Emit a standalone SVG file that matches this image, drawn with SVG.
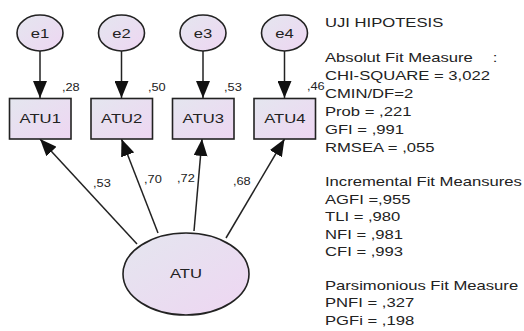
<svg xmlns="http://www.w3.org/2000/svg" width="524" height="331" viewBox="0 0 524 331">
<style>
.node{stroke:#222;stroke-width:1.6;fill:url(#g)}
.lbl{font-family:"Liberation Sans",Arial,sans-serif;font-size:13px;fill:#222}
.nm{font-family:"Liberation Sans",Arial,sans-serif;font-size:13px;fill:#222;text-anchor:middle}
.sm{font-family:"Liberation Sans",Arial,sans-serif;font-size:10px;fill:#222}
.cn{stroke:#222;stroke-width:1.5;fill:none;marker-end:url(#ah)}
</style>
<defs>
<linearGradient id="g" x1="0" y1="0" x2="1" y2="1">
<stop offset="0" stop-color="#e4e6ef"/>
<stop offset="1" stop-color="#eed6f2"/>
</linearGradient>
<marker id="ah" markerUnits="userSpaceOnUse" markerWidth="18" markerHeight="14" refX="17" refY="7" orient="auto">
<path d="M0,0 L17,7 L0,14 Z" fill="#111"/>
</marker>
</defs>
<g id="connectors">
<line class="cn" x1="40" y1="51" x2="40" y2="98"/>
<line class="cn" x1="121.5" y1="51" x2="121.5" y2="98"/>
<line class="cn" x1="203" y1="51" x2="203" y2="98"/>
<line class="cn" x1="284.5" y1="51" x2="284.5" y2="98"/>
<line class="cn" x1="137" y1="244" x2="40" y2="139"/>
<line class="cn" x1="158" y1="233" x2="121.5" y2="139"/>
<line class="cn" x1="194" y1="231" x2="202" y2="139"/>
<line class="cn" x1="226" y1="238" x2="284.5" y2="139"/>
</g>
<g id="e1"><ellipse class="node" cx="40" cy="33" rx="23" ry="18"/><g transform="scale(1.28,1)"><text class="nm" x="31.25" y="38">e1</text></g></g>
<g id="e2"><ellipse class="node" cx="121.5" cy="33" rx="23" ry="18"/><g transform="scale(1.28,1)"><text class="nm" x="94.92" y="38">e2</text></g></g>
<g id="e3"><ellipse class="node" cx="203" cy="33" rx="23" ry="18"/><g transform="scale(1.28,1)"><text class="nm" x="158.59" y="38">e3</text></g></g>
<g id="e4"><ellipse class="node" cx="284.5" cy="33" rx="23" ry="18"/><g transform="scale(1.28,1)"><text class="nm" x="222.27" y="38">e4</text></g></g>
<g id="ATU1"><rect class="node" x="9.5" y="98.5" width="61.5" height="40.5"/><g transform="scale(1.28,1)"><text class="nm" x="31.45" y="123">ATU1</text><text class="sm" x="48.4" y="91">,28</text></g></g>
<g id="ATU2"><rect class="node" x="91" y="98.5" width="61.5" height="40.5"/><g transform="scale(1.28,1)"><text class="nm" x="95.1" y="123">ATU2</text><text class="sm" x="115.6" y="91">,50</text></g></g>
<g id="ATU3"><rect class="node" x="172.5" y="98.5" width="61.5" height="40.5"/><g transform="scale(1.28,1)"><text class="nm" x="158.8" y="123">ATU3</text><text class="sm" x="175" y="91">,53</text></g></g>
<g id="ATU4"><rect class="node" x="254" y="98.5" width="61.5" height="40.5"/><g transform="scale(1.28,1)"><text class="nm" x="222.5" y="123">ATU4</text><text class="sm" x="239.8" y="90">,46</text></g></g>
<g id="ATU"><ellipse class="node" cx="186" cy="274" rx="63" ry="41"/><g transform="scale(1.28,1)"><text class="nm" x="145.3" y="278">ATU</text></g></g>
<g id="path-labels" transform="scale(1.28,1)">
<text class="sm" x="72.7" y="187">,53</text>
<text class="sm" x="112.5" y="183">,70</text>
<text class="sm" x="138.3" y="182">,72</text>
<text class="sm" x="182" y="185">,68</text>
</g>
<g id="fit" transform="scale(1.28,1)">
<text class="lbl" x="253.9" y="27">UJI HIPOTESIS</text>
<text class="lbl" x="253.9" y="62">Absolut Fit Measure</text>
<text class="lbl" x="385" y="62">:</text>
<text class="lbl" x="253.9" y="80">CHI-SQUARE = 3,022</text>
<text class="lbl" x="253.9" y="98">CMIN/DF=2</text>
<text class="lbl" x="253.9" y="116">Prob = ,221</text>
<text class="lbl" x="253.9" y="134">GFI = ,991</text>
<text class="lbl" x="253.9" y="152">RMSEA = ,055</text>
<text class="lbl" x="253.9" y="186">Incremental Fit Meansures</text>
<text class="lbl" x="253.9" y="204">AGFI =,955</text>
<text class="lbl" x="253.9" y="221.5">TLI = ,980</text>
<text class="lbl" x="253.9" y="239">NFI = ,981</text>
<text class="lbl" x="253.9" y="256">CFI = ,993</text>
<text class="lbl" x="253.9" y="290">Parsimonious Fit Measure</text>
<text class="lbl" x="253.9" y="307.5">PNFI = ,327</text>
<text class="lbl" x="253.9" y="325">PGFi = ,198</text>
</g>
</svg>
